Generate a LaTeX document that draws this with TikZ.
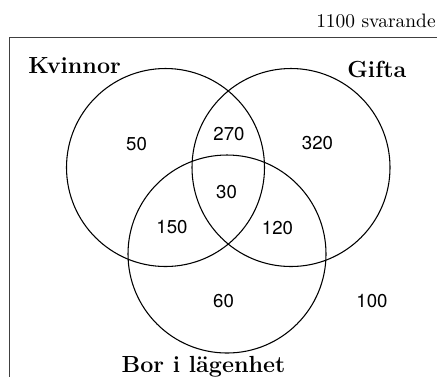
\documentclass[tikz,border=0pt]{standalone}
\usepackage{fontspec}
\newfontfamily\numfont{TeX Gyre Heros}
\begin{document}
\begin{tikzpicture}[x=0.515pt,y=-0.515pt,
  setcircle/.style={draw=black,line width=0.55pt,circle,minimum size=101.97pt,inner sep=0pt},
  frameline/.style={draw=black!75,line width=1pt},
  setlabel/.style={inner sep=0pt,font=\large\bfseries},
  countlabel/.style={inner sep=0pt,font=\numfont\fontsize{9.6}{11}\selectfont},
  totallabel/.style={inner sep=0pt,font=\normalsize}]
\useasboundingbox (0,0) rectangle (437,376);
\begin{scope}
\clip (0,0) rectangle (437,376);
\draw[frameline] (9.5,400) -- (9.5,37.5) -- (450,37.5);
\end{scope}
\node[setcircle] (K) at (165.5,167.5) {};
\node[setcircle] (G) at (291,167.5) {};
\node[setcircle] (B) at (227,254) {};
\node[totallabel,anchor=base east] (tot) at (436,27) {1100 svarande};
\node[setlabel,anchor=base west] (kl) at (28,73) {Kvinnor};
\node[setlabel,anchor=base west] (gl) at (347,77) {Gifta};
\node[setlabel,anchor=base] (bl) at (203.5,372) {Bor i lägenhet};
\node[countlabel,anchor=base] (n50) at (136.5,150) {50};
\node[countlabel,anchor=base] (n270) at (229,140) {270};
\node[countlabel,anchor=base] (n320) at (317.5,149) {320};
\node[countlabel,anchor=base] (n30) at (226.5,198) {30};
\node[countlabel,anchor=base] (n150) at (172,233) {150};
\node[countlabel,anchor=base] (n120) at (277.5,234) {120};
\node[countlabel,anchor=base] (n60) at (223.5,307) {60};
\node[countlabel,anchor=base] (n100) at (372,307) {100};
\end{tikzpicture}
\end{document}
